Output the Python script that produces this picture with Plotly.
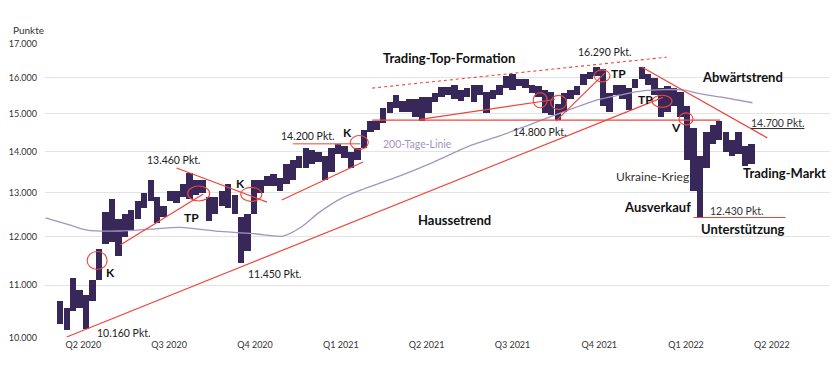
import numpy as np
import pandas as pd
import plotly.graph_objects as go

# ---------------- data ----------------
# weekly ranges of the index (week centres, Wednesdays), points
week_start = "2020-04-15"
lows = [
    # 2020 Apr-Dec
    10250, 10150, 10500,
    10550, 10160, 10700, 11100,
    11850, 11900, 11600, 12000,
    12150, 12400, 12650, 12800, 12300,
    12450, 12800, 12750, 12900,
    12850, 12950, 13000, 12350, 12500,
    12700, 12650, 12500, 11450,
    11700, 12500, 13000, 13150,
    13150, 13050, 13200, 13300, 13600,
    # 2021
    13600, 13700, 13750, 13300,
    13500, 13950, 13850, 13600,
    13800, 14100, 14500, 14550, 14750,
    15000, 15150, 15050, 15050,
    14900, 14800, 15000, 15300,
    15450, 15500, 15400, 15350, 15450,
    15300, 15500, 15000, 15400,
    15500, 15700, 15650, 15750,
    15700, 15550, 15450, 15000, 14950,
    14820, 15050, 15400, 15500,
    15800, 15950, 16050, 15200,
    15050, 15500, 15400, 15100, 15700,
    # 2022
    15950, 15800, 15500, 14900,
    15050, 15200, 14900, 13800,
    13050, 12430, 13600, 14200, 14300,
    14000, 13900, 13950, 13650,
    13700,
]
highs = [
    # 2020 Apr-Dec
    10700, 10550, 11150,
    10900, 10800, 11100, 11750,
    12550, 12850, 12400, 12500,
    12600, 12800, 13000, 13300, 12900,
    12700, 13050, 13050, 13200,
    13460, 13300, 13300, 12900, 12900,
    13050, 13200, 12950, 12450,
    12500, 13300, 13300, 13400,
    13450, 13350, 13700, 13800, 13900,
    # 2021
    14100, 14050, 14000, 13900,
    14100, 14200, 14150, 14000,
    14100, 14550, 14800, 14800, 15150,
    15300, 15500, 15350, 15400,
    15400, 15450, 15450, 15550,
    15730, 15720, 15800, 15650, 15700,
    15800, 15800, 15600, 15650,
    15800, 16050, 16100, 15950,
    15950, 15800, 15750, 15650, 15600,
    15250, 15550, 15650, 15750,
    16100, 16150, 16300, 16250,
    15550, 15800, 15800, 15700, 15950,
    # 2022
    16300, 16100, 16000, 15700,
    15750, 15700, 15600, 15200,
    14600, 13900, 14500, 14700, 14800,
    14500, 14300, 14500, 14150,
    14200,
]

# 200-day line
ma_dates = ["2020-03-30", "2020-04-26", "2020-05-14", "2020-06-19", "2020-07-21",
            "2020-08-23", "2020-10-05", "2020-11-12", "2020-12-12", "2020-12-31",
            "2021-01-21", "2021-02-12", "2021-03-09", "2021-04-18", "2021-05-24",
            "2021-07-03", "2021-08-04", "2021-09-06", "2021-10-08", "2021-11-18",
            "2021-12-12", "2022-01-06", "2022-02-19", "2022-03-06", "2022-03-31",
            "2022-05-05"]
ma_values = [12420, 12260, 12150, 12130, 12170,
             12210, 12120, 12070, 12020, 12200,
             12550, 12850, 13080, 13400, 13730,
             14150, 14400, 14700, 15000, 15370,
             15500, 15620, 15650, 15560, 15450,
             15290]

# trend lines: (start date, start value, end date, end value)
trend_lines = [
    ("2020-04-22", 10018, "2022-01-28", 15440),   # Haussetrend
    ("2020-06-19", 11830, "2020-09-17", 12970),   # TP uptrend 2020
    ("2020-08-19", 13590, "2020-11-25", 12780),   # downtrend from 13.460
    ("2020-12-11", 12830, "2021-03-09", 13740),   # uptrend Q4 2020
    ("2021-03-19", 14820, "2022-03-31", 14820),   # 14.800 horizontal
    ("2021-05-10", 14840, "2021-10-03", 15380),   # lower top line
    ("2021-10-04", 14790, "2021-11-26", 16130),   # steep line to top
    ("2022-01-05", 16310, "2022-05-21", 14350),   # Abwärtstrend
    ("2022-03-02", 12430, "2022-06-10", 12430),   # Unterstützung
]
resistance_14200 = ("2020-12-23", 14200, "2021-03-06", 14200)
top_line = ("2021-03-19", 15700, "2022-02-01", 16600)

# circle marks (centre date, centre value)
circle_dates = ["2020-05-25", "2020-09-12", "2020-11-08", "2021-03-05", "2021-09-17",
                "2021-10-07", "2021-11-23", "2022-01-27", "2022-02-22"]
circle_values = [11500, 12980, 12960, 14230, 15360, 15300, 16050, 15330, 14850]
circle_sizes = [(20, 18), (22, 15), (21, 14), (18, 14), (14, 15), (16, 14), (16, 12), (20, 12), (14, 12)]

# axis ticks
y_ticks = [10000, 11000, 12000, 13000, 14000, 15000, 16000, 17000]
y_tick_labels = ["10.000", "11.000", "12.000", "13.000", "14.000", "15.000", "16.000", "17.000"]
q_tick_dates = ["2020-05-10", "2020-08-11", "2020-11-12", "2021-02-13", "2021-05-17",
                "2021-08-18", "2021-11-20", "2022-02-22", "2022-05-26"]
q_tick_labels = ["Q2 2020", "Q3 2020", "Q4 2020", "Q1 2021", "Q2 2021",
                 "Q3 2021", "Q4 2021", "Q1 2022", "Q2 2022"]

# ---------------- figure ----------------
W, H = 840, 377
L, R, T, B = 45, 10, 44, 39
FONT = "Lato"
PURPLE = "#38285a"
RED = "#f0443b"
PX_PER_DECADE = (338 - 44) / np.log10(1.7)

weeks = pd.date_range(week_start, periods=len(lows), freq="7D")
lows_a = np.array(lows, dtype=float)
highs_a = np.array(highs, dtype=float)

fig = go.Figure()
fig.add_trace(go.Bar(
    x=weeks, y=highs_a - lows_a, base=lows_a,
    width=6.9 * 86400000, marker=dict(color=PURPLE, line=dict(width=0)),
    hoverinfo="skip", showlegend=False))

fig.add_trace(go.Scatter(
    x=pd.to_datetime(ma_dates), y=ma_values, mode="lines",
    line=dict(color="#a394c2", width=1.3, shape="spline", smoothing=0.8),
    hoverinfo="skip", showlegend=False))

shapes = []
for d0, v0, d1, v1 in trend_lines:
    shapes.append(dict(type="line", xref="x", yref="y", x0=d0, y0=v0, x1=d1, y1=v1,
                       line=dict(color=RED, width=1.2)))
d0, v0, d1, v1 = resistance_14200
shapes.append(dict(type="line", xref="x", yref="y", x0=d0, y0=v0, x1=d1, y1=v1,
                   line=dict(color="#f0837a", width=1.6)))
d0, v0, d1, v1 = top_line
shapes.append(dict(type="line", xref="x", yref="y", x0=d0, y0=v0, x1=d1, y1=v1,
                   line=dict(color=RED, width=1.1, dash="dot")))
for d, v, (w, h) in zip(circle_dates, circle_values, circle_sizes):
    f = 10 ** (h / 2 / PX_PER_DECADE)
    shapes.append(dict(type="circle", xref="x", yref="y", xsizemode="pixel",
                       xanchor=d, x0=-w / 2, x1=w / 2, y0=v / f, y1=v * f,
                       line=dict(color=RED, width=1.1)))


def paper(px, py):
    return (px - L) / (W - L - R), (338 - py) / (H - T - B)


texts = [
    ("Punkte", 11, 30, 10, False, "#333333", "left"),
    ("10.160 Pkt.", 123, 333, 10.5, False, "#222222", "center"),
    ("K", 110, 272, 12, True, "#111111", "center"),
    ("TP", 191, 217, 12, True, "#111111", "center"),
    ("13.460 Pkt.", 173, 160, 10.5, False, "#222222", "center"),
    ("K", 240, 183, 12, True, "#111111", "center"),
    ("11.450 Pkt.", 274, 274, 10.5, False, "#222222", "center"),
    ("14.200 Pkt.", 307, 136, 10.5, False, "#222222", "center"),
    ("K", 347, 132, 12, True, "#111111", "center"),
    ("200-Tage-Linie", 417, 144, 10.5, False, "#a394c2", "center"),
    ("Trading-Top-Formation", 449, 58, 13, True, "#111111", "center"),
    ("Haussetrend", 454, 220, 13, True, "#111111", "center"),
    ("14.800 Pkt.", 539, 132, 10.5, False, "#222222", "center"),
    ("16.290 Pkt.", 604, 52, 10.5, False, "#222222", "center"),
    ("TP", 618, 73, 12, True, "#111111", "center"),
    ("TP", 645, 99, 12, True, "#111111", "center"),
    ("V", 676, 127, 12, True, "#111111", "center"),
    ("Abwärtstrend", 742, 77, 13, True, "#111111", "center"),
    ("<u>14.700 Pkt.</u>", 777, 123, 10.5, False, "#333333", "center"),
    ("Trading-Markt", 784, 173, 13, True, "#111111", "center"),
    ("Ukraine-Krieg", 652, 176, 12, False, "#333333", "center"),
    ("Ausverkauf", 657, 207, 13, True, "#111111", "center"),
    ("12.430 Pkt.", 736, 211, 10.5, False, "#333333", "center"),
    ("Unterstützung", 743, 229, 13, True, "#111111", "center"),
]
annotations = []
for txt, px, py, size, bold, color, anchor in texts:
    xp, yp = paper(px, py)
    annotations.append(dict(
        text=f"<b>{txt}</b>" if bold else txt, x=xp, y=yp, xref="paper", yref="paper",
        xanchor=anchor, yanchor="middle", showarrow=False,
        font=dict(family=FONT, size=size, color=color)))

# x range from pixel calibration (May 14 2020 at px 87, 0.923 px per day)
anchor_day = pd.Timestamp("2020-05-14")
px_per_day = 0.923
x_lo = anchor_day + pd.Timedelta(days=(L - 87) / px_per_day)
x_hi = anchor_day + pd.Timedelta(days=(W - R - 87) / px_per_day)

fig.update_layout(
    width=W, height=H, margin=dict(l=L, r=R, t=T, b=B),
    paper_bgcolor="white", plot_bgcolor="white",
    shapes=shapes, annotations=annotations, bargap=0,
    font=dict(family=FONT, color="#333333"),
    xaxis=dict(type="date", range=[x_lo, x_hi], showgrid=False, zeroline=False,
               showline=False, ticks="", tickmode="array",
               tickvals=pd.to_datetime(q_tick_dates), ticktext=q_tick_labels,
               tickfont=dict(family=FONT, size=9, color="#333333")),
    yaxis=dict(type="log", range=[4, np.log10(17000)], showgrid=True,
               gridcolor="#e3e3e3", gridwidth=1, zeroline=False, showline=False,
               ticks="", tickmode="array", tickvals=y_ticks, ticktext=y_tick_labels,
               ticklabelstandoff=7,
               tickfont=dict(family=FONT, size=9, color="#333333")),
)

fig.write_html("out.html", config={"displayModeBar": False},
               post_script="document.body.style.margin='0';")
